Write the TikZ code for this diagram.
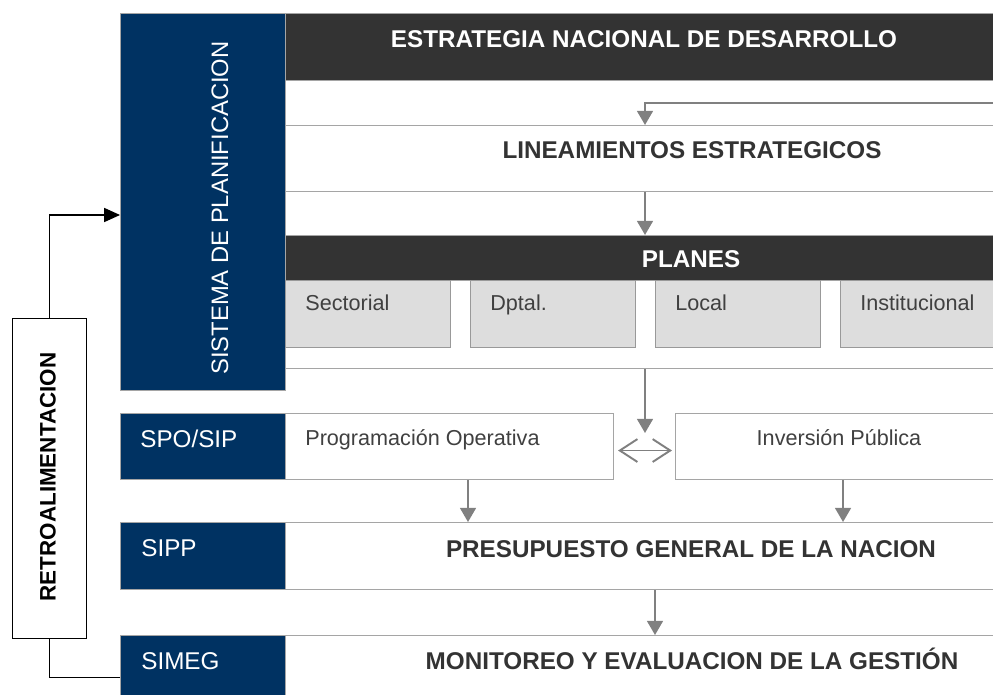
\documentclass[tikz,border=0pt]{standalone}
\usepackage{fontspec}
\setmainfont{Liberation Sans}
\usetikzlibrary{arrows.meta,positioning}

\definecolor{navy}{RGB}{0,50,98}
\definecolor{charcoal}{RGB}{51,51,51}
\definecolor{panel}{RGB}{221,221,221}
\definecolor{rule}{RGB}{165,165,165}
\definecolor{flow}{RGB}{128,128,128}
\definecolor{ink}{RGB}{64,64,64}

\tikzset{
  box/.style 2 args={draw=rule, line width=0.6pt, anchor=north west, inner sep=0pt,
    minimum width=#1*0.02cm, minimum height=#2*0.02cm},
  hdr/.style={font=\bfseries\fontsize{13.8}{16}\selectfont, text=charcoal, anchor=base},
  tag/.style={font=\fontsize{13.8}{16}\selectfont, text=white, anchor=base west, inner sep=0pt},
  small/.style={font=\fontsize{12.3}{14}\selectfont, text=ink, anchor=base west, inner sep=0pt},
  flowarrow/.style={draw=flow, line width=1.1pt, -{Triangle[width=9pt,length=8pt]}},
  pairarrow/.style={draw=flow, line width=1.1pt, {Straight Barb[width=13pt,length=10pt]}-{Straight Barb[width=13pt,length=10pt]}},
}

\begin{document}
\begin{tikzpicture}[x=0.02cm, y=-0.02cm]
  \useasboundingbox (0,0) rectangle (993,695);
  % left column
  \node[box={165}{377}, fill=navy] (sys) at (120,13) {};
  \node[box={165}{66}, fill=navy] (spo) at (120,413) {};
  \node[box={165}{67}, fill=navy] (sipp) at (120,522) {};
  \node[box={165}{75}, fill=navy] (simeg) at (120,635) {};
  \node[font=\fontsize{13.55}{16}\selectfont, text=white, rotate=90] (systxt) at (220,208) {SISTEMA DE PLANIFICACION};
  \node[tag] (spotxt) at (140,447) {SPO/SIP};
  \node[tag] (sipptxt) at (141,556) {SIPP};
  \node[tag] (simegtxt) at (141,669) {SIMEG};
  % right column
  \node[box={725}{67}, fill=charcoal] (end) at (285,13) {};
  \node[hdr, text=white] (endtxt) at (644,48) {ESTRATEGIA NACIONAL DE DESARROLLO};
  \node[box={725}{66}, fill=white] (lin) at (285,125) {};
  \node[hdr] (lintxt) at (692,159) {LINEAMIENTOS ESTRATEGICOS};
  \node[box={725}{133}, fill=white] (plan) at (285,235) {};
  \node[box={725}{45}, fill=charcoal] (planbar) at (285,235) {};
  \node[hdr, text=white] (plantxt) at (691,268) {PLANES};
  \node[box={165}{67}, fill=panel, draw=flow!80] (sec) at (285,280) {};
  \node[box={165}{67}, fill=panel, draw=flow!80] (dpt) at (470,280) {};
  \node[box={165}{67}, fill=panel, draw=flow!80] (loc) at (655,280) {};
  \node[box={165}{67}, fill=panel, draw=flow!80] (ins) at (840,280) {};
  \node[small] (sectxt) at (305,311) {Sectorial};
  \node[small] (dpttxt) at (490,311) {Dptal.};
  \node[small] (loctxt) at (675,311) {Local};
  \node[small] (instxt) at (860,311) {Institucional};
  \node[box={328}{66}, fill=white] (prog) at (285,413) {};
  \node[box={335}{66}, fill=white] (inv) at (675,413) {};
  \node[small] (progtxt) at (305,445) {Programación Operativa};
  \node[small, anchor=base] (invtxt) at (839,445) {Inversión Pública};
  \node[box={725}{67}, fill=white] (pgn) at (285,522) {};
  \node[hdr] (pgntxt) at (691,557) {PRESUPUESTO GENERAL DE LA NACION};
  \node[box={725}{75}, fill=white] (meg) at (285,635) {};
  \node[hdr] (megtxt) at (692,669) {MONITOREO Y EVALUACION DE LA GESTIÓN};
  % feedback
  \node[box={74}{320}, draw=black, fill=white] (retro) at (12,318) {};
  \node[font=\bfseries\fontsize{12.75}{15}\selectfont, rotate=90] (retrotxt) at (48,477) {RETROALIMENTACION};
  % arrows
  \coordinate (axis) at (645,0);
  \coordinate (leftaxis) at (468,0);
  \coordinate (lowaxis) at (655,0);
  \coordinate (feed) at (1000,103);
  \coordinate (split) at (645,433);
  \coordinate (entry) at (120,215);
  \draw[flowarrow] (feed) -| (axis |- lin.north);
  \draw[flowarrow] (axis |- lin.south) -- (axis |- plan.north);
  \draw[flowarrow] (axis |- plan.south) -- (split);
  \draw[pairarrow] ([shift={(4,4)}]prog.east) -- ([shift={(-3,4)}]inv.west);
  \draw[flowarrow] (leftaxis |- prog.south) -- (leftaxis |- pgn.north);
  \draw[flowarrow] (inv.south) -- (inv.south |- pgn.north);
  \draw[flowarrow] (lowaxis |- pgn.south) -- (lowaxis |- meg.north);
  \draw[line width=0.6pt] ([yshift=-0.08cm]simeg.west) -| (retro.south);
  \draw[line width=0.6pt, -{Triangle[width=8pt,length=9pt]}] (retro.north) |- (entry);
\end{tikzpicture}
\end{document}
